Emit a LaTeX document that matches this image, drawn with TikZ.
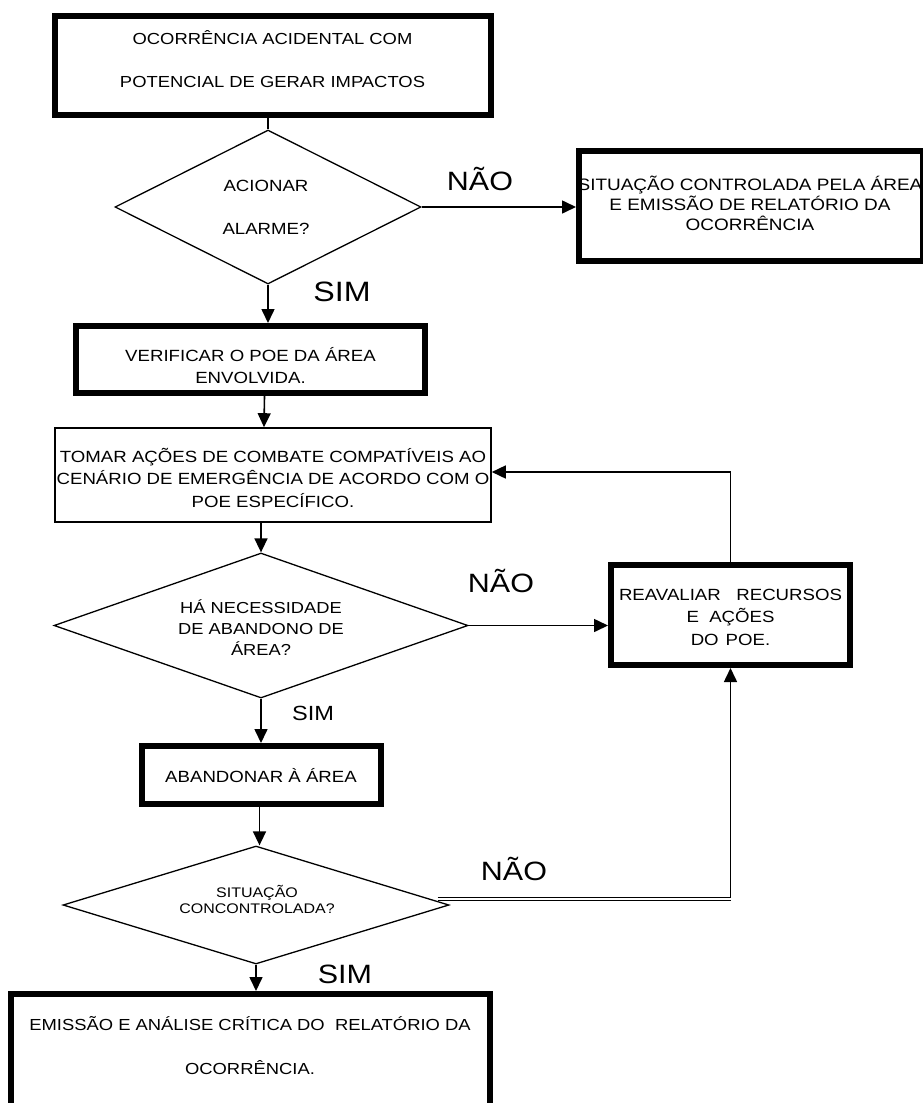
\documentclass[tikz,border=0pt]{standalone}
\usepackage{fontspec}
\setmainfont{Liberation Sans}[FakeStretch=1.15]
\usetikzlibrary{shapes.geometric,arrows.meta,calc}
\begin{document}
\begin{tikzpicture}[x=1pt,y=-1pt,
  thickbox/.style={draw, rectangle, line width=6pt, inner sep=0pt},
  thinbox/.style={draw, rectangle, line width=1.6pt, inner sep=0pt},
  decision/.style={draw, diamond, line width=1.3pt, inner sep=0pt},
  conn/.style={line width=1.6pt},
  arr/.style={conn, -{Triangle[length=14pt,width=13pt]}},
  dbl/.style={double, double distance=1.2pt, line width=1.5pt},
  txt/.style={inner sep=0pt, align=center, anchor=base},
  lbl/.style={inner sep=0pt, anchor=base},
]
\useasboundingbox (0,0) rectangle (923,1103);
\fill[white] (0,0) rectangle (923,1103);
\clip (0,0) rectangle (923,1103);

% boxes (text nodes are placed by the baseline of their last line)
\node[thickbox, minimum width=436pt, minimum height=99pt] (b1) at (273,65.5) {};
\node[txt, font=\fontsize{16}{43}\selectfont] (b1t) at (272.5,87.7) {OCORRÊNCIA ACIDENTAL COM\\POTENCIAL DE GERAR IMPACTOS};

\node[decision, minimum width=306pt, minimum height=154pt] (d1) at (268,207) {};
\node[txt, font=\fontsize{16.2}{43}\selectfont] (d1t) at (266,234) {ACIONAR\\ALARME?};

\node[thickbox, minimum width=344pt, minimum height=110pt] (rb) at (751,206) {};
\node[txt, font=\fontsize{16.5}{20}\selectfont] (rbt) at (750,230) {SITUAÇÃO CONTROLADA PELA ÁREA\\E EMISSÃO DE RELATÓRIO DA\\OCORRÊNCIA};

\node[thickbox, minimum width=349pt, minimum height=67pt] (b2) at (250.5,359.5) {};
\node[txt, font=\fontsize{16.2}{22}\selectfont] (b2t) at (250.5,383) {VERIFICAR O POE DA ÁREA\\ENVOLVIDA.};

\node[thinbox, minimum width=436pt, minimum height=94pt] (b3) at (273,475) {};
\node[txt, font=\fontsize{16.2}{22.5}\selectfont] (b3t) at (273,507) {TOMAR AÇÕES DE COMBATE COMPATÍVEIS AO\\CENÁRIO DE EMERGÊNCIA DE ACORDO COM O\\POE ESPECÍFICO.};

\node[decision, minimum width=414pt, minimum height=145pt] (d2) at (261,625.5) {};
\node[txt, font=\fontsize{15.9}{21}\selectfont] (d2t) at (261,655) {HÁ NECESSIDADE\\DE ABANDONO DE\\ÁREA?};

\node[thickbox, minimum width=239pt, minimum height=100pt] (b4) at (730.5,615) {};
\node[txt, font=\fontsize{16.2}{22.5}\selectfont] (b4t) at (730.5,645) {REAVALIAR~~~RECURSOS\\E~~AÇÕES\\DO\hspace{7pt}POE.};

\node[thickbox, minimum width=239pt, minimum height=58pt] (b5) at (261.5,775) {};
\node[txt, font=\fontsize{16.2}{22}\selectfont] (b5t) at (261,782) {ABANDONAR À ÁREA};

\node[decision, minimum width=386pt, minimum height=118pt] (d3) at (256,905) {};
\node[txt, font=\fontsize{13.9}{16}\selectfont] (d3t) at (257,913) {SITUAÇÃO\\CONCONTROLADA?};

\node[thickbox, minimum width=479pt, minimum height=115pt] (b6) at (250.5,1051.5) {};
\node[txt, font=\fontsize{16}{44}\selectfont] (b6t) at (250,1074) {EMISSÃO E ANÁLISE CRÍTICA DO~~RELATÓRIO DA\\OCORRÊNCIA.};

% labels
\node[lbl, font=\fontsize{26.5}{30}\selectfont] (n1) at (480,190) {NÃO};
\node[lbl, font=\fontsize{28}{30}\selectfont] (s1) at (342,301) {SIM};
\node[lbl, font=\fontsize{26.5}{30}\selectfont] (n2) at (501,592) {NÃO};
\node[lbl, font=\fontsize{20.5}{24}\selectfont] (s2) at (313,720) {SIM};
\node[lbl, font=\fontsize{26.5}{30}\selectfont] (n3) at (514,880) {NÃO};
\node[lbl, font=\fontsize{26.5}{30}\selectfont] (s3) at (345,983) {SIM};

% connectors
\draw[conn] (d1.north |- b1.south) -- (d1.north);
\draw[arr] (d1.east) -- (d1.east -| rb.west);
\draw[arr] (d1.south) -- (d1.south |- b2.north);
\draw[arr] ([xshift=14pt]b2.south) -- ([xshift=-9pt]b3.north);
\draw[arr] ([xshift=-12pt]b3.south) -- (d2.north);
\draw[arr] (d2.east) -- (d2.east -| b4.west);
\draw[arr] (b4.north) |- ([yshift=3pt]b3.east);
\draw[arr] (d2.south) -- (d2.south |- b5.north);
\draw[arr] ([xshift=-2pt]b5.south) -- ([xshift=-2pt]b5.south |- d3.north);
\coordinate (dn) at ($(d3.east)+(-12,-6)$);
\coordinate (k) at (b4.south |- dn);
\draw[dbl] (dn) -- (k);
\draw[arr] ([yshift=2pt]k) -- (b4.south);
\draw[arr] (d3.south) -- (d3.south |- b6.north);
\end{tikzpicture}
\end{document}
